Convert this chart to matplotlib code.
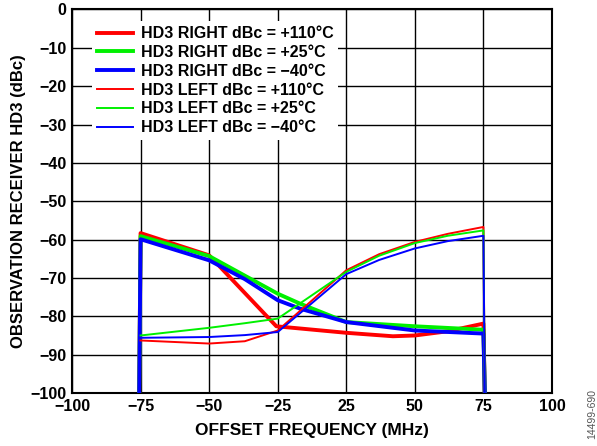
import numpy as np
import matplotlib
matplotlib.use("Agg")
import matplotlib.pyplot as plt

plt.rcParams['font.family'] = ['Liberation Sans', 'DejaVu Sans']
plt.rcParams['font.weight'] = 'bold'

# x axis ticks (equally spaced, no zero)
tick_vals = [-100, -75, -50, -25, 25, 50, 75, 100]
tick_labels = ['\u2212100', '\u221275', '\u221250', '\u221225', '25', '50', '75', '100']
y_ticks = list(range(0, -101, -10))

# HD3 RIGHT (thick)
right_x = [-75.5, -75, -50, -25.5, 25, 42, 50, 62, 75, 75.5]
right_110 = [-100, -58.3, -64.1, -82.6, -84.3, -85.2, -85.0, -83.9, -81.9, -100]
right_x2 = [-75.5, -75, -50, -25, -8.7, 25, 50, 75, 75.5]
right_25 = [-100, -59.1, -64.3, -74.1, -76.7, -81.5, -82.6, -83.5, -100]
right_x3 = [-75.5, -75, -50, -37, -25, -8.7, 25, 50, 75, 75.5]
right_m40 = [-100, -59.9, -65.4, -70.3, -75.8, -78.0, -81.5, -83.7, -84.5, -100]

# HD3 LEFT (thin)
left_x = [-75, -50, -37, -25, 25, 37, 50, 62, 75, 75.5]
left_110 = [-86.3, -87.1, -86.5, -83.7, -68.0, -63.8, -60.6, -58.5, -56.7, -100]
left_25 = [-85.0, -83.0, -81.8, -80.6, -68.4, -64.2, -60.9, -59.0, -57.6, -100]
left_m40 = [-85.6, -85.4, -84.9, -84.1, -69.0, -65.3, -62.3, -60.4, -59.0, -100]

idx = np.arange(len(tick_vals), dtype=float)


def fwd(x):
    return np.interp(x, tick_vals, idx, left=np.nan, right=np.nan)


def inv(p):
    return np.interp(p, idx, tick_vals)


fig = plt.figure(figsize=(5.97, 4.46), dpi=100)
ax = fig.add_axes([0.1206, 0.1188, 0.804, 0.8599])
ax.set_xscale('function', functions=(fwd, inv))

red, green, blue = '#ff0000', '#00f000', '#0000ff'
thick, thin = 2.8, 1.4

ax.plot(right_x, right_110, color=red, lw=thick, label='HD3 RIGHT dBc = +110\u00b0C', zorder=3)
ax.plot(right_x2, right_25, color=green, lw=thick, label='HD3 RIGHT dBc = +25\u00b0C', zorder=3)
ax.plot(right_x3, right_m40, color=blue, lw=thick, label='HD3 RIGHT dBc = \u221240\u00b0C', zorder=3)
ax.plot(left_x, left_110, color=red, lw=thin, label='HD3 LEFT dBc = +110\u00b0C', zorder=3)
ax.plot(left_x, left_25, color=green, lw=thin, label='HD3 LEFT dBc = +25\u00b0C', zorder=3)
ax.plot(left_x, left_m40, color=blue, lw=thin, label='HD3 LEFT dBc = \u221240\u00b0C', zorder=3)

ax.set_xlim(-100, 100)
ax.set_ylim(-100, 0)
ax.set_xticks(tick_vals)
ax.set_xticklabels(tick_labels)
ax.set_yticks(y_ticks)
ax.set_yticklabels(['0'] + ['\u2212%d' % -v for v in y_ticks[1:]])
ax.tick_params(length=0, labelsize=11.5, pad=4)
for lab in ax.get_xticklabels() + ax.get_yticklabels():
    lab.set_fontweight('bold')
ax.grid(True, color='black', lw=1.0)
for s in ax.spines.values():
    s.set_linewidth(1.5)

ax.set_xlabel('OFFSET FREQUENCY (MHz)', fontsize=12.5, fontweight='bold', labelpad=7)
ax.set_ylabel('OBSERVATION RECEIVER HD3 (dBc)', fontsize=12, fontweight='bold', labelpad=3)

leg = ax.legend(loc='upper left', bbox_to_anchor=(0.025, 0.99), frameon=True, fancybox=False,
                prop={'size': 11.5, 'weight': 'bold'}, handlelength=2.25, handletextpad=0.5,
                labelspacing=0.24, borderpad=0.3)
leg.get_frame().set_edgecolor('none')
leg.get_frame().set_facecolor('white')
leg.get_frame().set_alpha(1.0)
leg.set_zorder(5)

fig.text(0.992, 0.015, '14499-690', rotation=90, fontsize=7.5, color='#555555',
         fontweight='normal', ha='center', va='bottom')

fig.savefig('out.png', dpi=100)
